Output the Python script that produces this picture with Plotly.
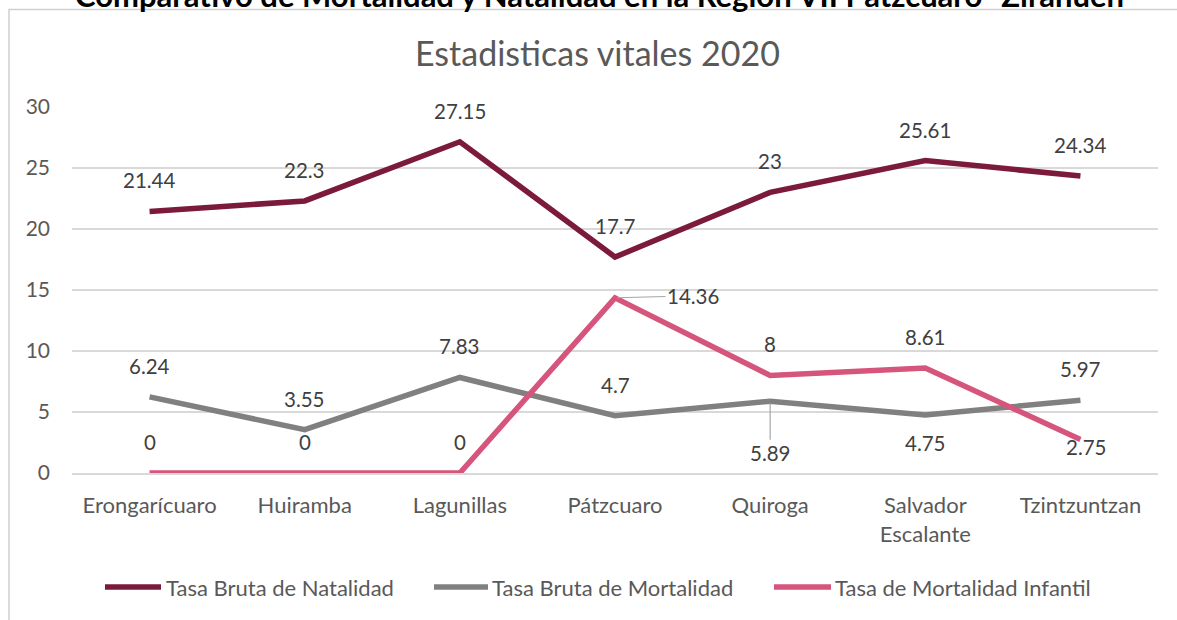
import plotly.graph_objects as go

# ---------------- data ----------------
municipios = ["Erongarícuaro", "Huiramba", "Lagunillas", "Pátzcuaro",
              "Quiroga", "Salvador Escalante", "Tzintzuntzan"]
tick_labels = ["Erongarícuaro", "Huiramba", "Lagunillas", "Pátzcuaro",
               "Quiroga", "Salvador<br>Escalante", "Tzintzuntzan"]
natalidad = [21.44, 22.3, 27.15, 17.7, 23, 25.61, 24.34]
mortalidad = [6.24, 3.55, 7.83, 4.7, 5.89, 4.75, 5.97]
infantil = [0, 0, 0, 14.36, 8, 8.61, 2.75]

series_names = ["Tasa Bruta de Natalidad", "Tasa Bruta de Mortalidad",
                "Tasa de Mortalidad Infantil"]
y_ticks = [0, 5, 10, 15, 20, 25, 30]

# ---------------- styles ----------------
FONT = "Lato, 'Open Sans', sans-serif"
COLORS = ["#7B1A3A", "#808080", "#D6557C"]
LABEL_COLOR = "#404040"
AXIS_COLOR = "#595959"
GRID = "#D9D9D9"

# data-label placement per series (xshift, yshift in px; "leader" = with leader line)
ABOVE = (0, 31)
label_place = [
    [ABOVE] * 7,
    [ABOVE, ABOVE, ABOVE, ABOVE, ("leader", 0, 52), (0, -28), ABOVE],
    [ABOVE, ABOVE, ABOVE, ("leader", 78, -2), ABOVE, ABOVE, (6, -8)],
]

fig = go.Figure()
all_series = [natalidad, mortalidad, infantil]
for name, vals, col in zip(series_names, all_series, COLORS):
    fig.add_trace(go.Scatter(
        x=municipios, y=vals, mode="lines", name=name,
        line=dict(color=col, width=5.5), showlegend=False,
        hoverinfo="x+y+name"))

annotations = []
for vals, places in zip(all_series, label_place):
    for cat, v, p in zip(municipios, vals, places):
        txt = f"{v:g}"
        if p[0] == "leader":
            annotations.append(dict(
                x=cat, y=v, xref="x", yref="y", text=txt, showarrow=True,
                arrowhead=0, arrowwidth=1.2, arrowcolor="#A6A6A6",
                ax=p[1], ay=p[2], standoff=2,
                font=dict(family=FONT, size=20.5, color=LABEL_COLOR)))
        else:
            annotations.append(dict(
                x=cat, y=v, xref="x", yref="y", text=txt, showarrow=False,
                xshift=p[0], yshift=p[1], xanchor="center", yanchor="middle",
                font=dict(family=FONT, size=20.5, color=LABEL_COLOR)))

# chart title
annotations.append(dict(
    x=0.4839, y=1.1497, xref="paper", yref="paper", showarrow=False,
    text="Estadisticas vitales 2020", xanchor="center", yanchor="middle",
    font=dict(family=FONT, size=34, color=AXIS_COLOR)))

# cut-off document heading above the chart
annotations.append(dict(
    x=0.4857, y=1.307, xref="paper", yref="paper", showarrow=False,
    text="<b>Comparativo de Mortalidad y Natalidad en la Región VII Pátzcuaro- Zirahuén</b>",
    xanchor="center", yanchor="middle",
    font=dict(family=FONT, size=31, color="#000000")))

# custom legend
PLOT_L, PLOT_W, PLOT_B, PLOT_H = 72, 1086, 473, 366
def px_x(p):
    return (p - PLOT_L) / PLOT_W
def px_y(p):
    return (PLOT_B - p) / PLOT_H

legend_items = [(105, 161, 164), (434, 488, 490), (774, 831, 833)]
shapes = []
leg_y = px_y(587)
for (x0, x1, xt), name, col in zip(legend_items, series_names, COLORS):
    shapes.append(dict(type="line", xref="paper", yref="paper",
                       x0=px_x(x0), x1=px_x(x1), y0=leg_y, y1=leg_y,
                       line=dict(color=col, width=5.5)))
    annotations.append(dict(x=px_x(xt), y=leg_y, xref="paper", yref="paper",
                            text=name, showarrow=False, xanchor="left",
                            yanchor="middle",
                            font=dict(family=FONT, size=22, color=AXIS_COLOR)))

# chart-area frame
shapes.append(dict(type="rect", xref="paper", yref="paper", layer="below",
                   x0=px_x(9), x1=px_x(1190), y0=px_y(640), y1=px_y(9.5),
                   line=dict(color="#D0D0D0", width=1.5),
                   fillcolor="rgba(0,0,0,0)"))

fig.update_layout(
    width=1177, height=620,
    margin=dict(l=72, r=19, t=107, b=147, pad=0),
    paper_bgcolor="white", plot_bgcolor="white",
    font=dict(family=FONT, color=AXIS_COLOR),
    annotations=annotations, shapes=shapes,
    xaxis=dict(type="category", range=[-0.5, 6.5], tickmode="array",
               tickvals=municipios, ticktext=tick_labels,
               tickfont=dict(size=22, color=AXIS_COLOR),
               showgrid=False, showline=True, linecolor=GRID, linewidth=1.5,
               ticks="", ticklabelstandoff=12, fixedrange=True),
    yaxis=dict(range=[0, 30], tickmode="array", tickvals=y_ticks,
               tickfont=dict(size=21, color=AXIS_COLOR),
               showgrid=True, gridcolor=GRID, gridwidth=1.5,
               zeroline=False, showline=False, ticks="",
               ticklabelstandoff=21, fixedrange=True),
    showlegend=False,
)

fig.write_html("out.html", config={"displayModeBar": False},
               post_script="document.body.style.margin='0';")
